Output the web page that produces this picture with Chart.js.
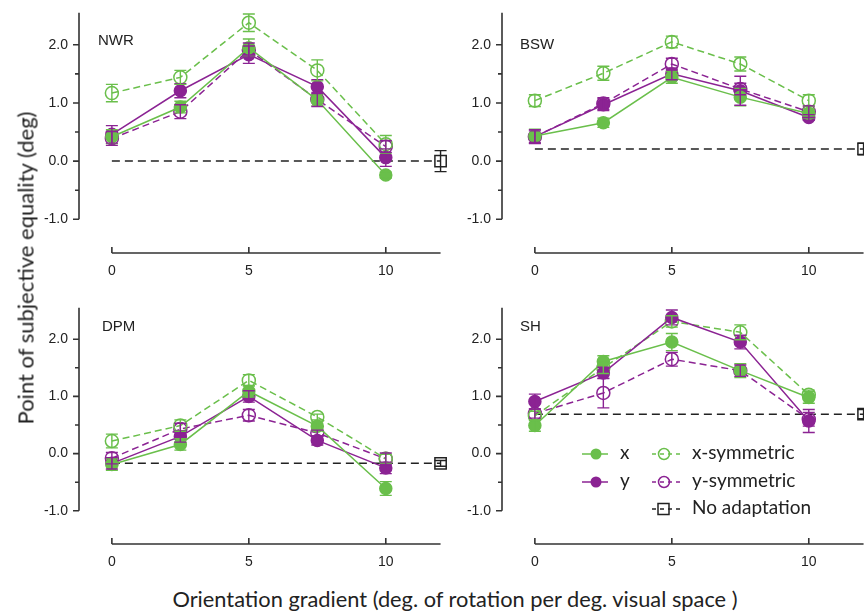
<!DOCTYPE html>
<html>
<head>
<meta charset="utf-8">
<script src="https://cdn.jsdelivr.net/npm/chart.js@4.4.0/dist/chart.umd.min.js"></script>
<style>
  body { margin: 0; width: 864px; height: 612px; overflow: hidden; background: #fff; position: relative; font-family: Lato, sans-serif; }
  canvas { position: absolute; }
  #ytitle { position: absolute; left: 25px; top: 268px; transform: translate(-50%, -50%) rotate(-90deg); white-space: nowrap; font-size: 22px; color: #222; }
  #xtitle { position: absolute; left: 455px; top: 598px; transform: translate(-50%, -50%); white-space: nowrap; font-size: 21.8px; color: #222; }
</style>
</head>
<body>
<canvas id="nwr" width="423" height="276" style="left:34px;top:7px"></canvas>
<canvas id="bsw" width="423" height="276" style="left:457px;top:7px"></canvas>
<canvas id="dpm" width="423" height="272" style="left:34px;top:302px"></canvas>
<canvas id="sh" width="423" height="272" style="left:457px;top:302px"></canvas>
<div id="ytitle">Point of subjective equality (deg)</div>
<div id="xtitle">Orientation gradient (deg. of rotation per deg. visual space )</div>
<script>
// orientation gradients tested
var gradient = [0, 2.5, 5, 7.5, 10];
var noAdaptX = [0, 12];
var xTicks = [0, 5, 10];
var yTicks = [-1, 0, 1, 2];

// NWR
var nwrX = [0.42, 0.93, 1.95, 1.05, -0.24];
var nwrXErr = [0.12, 0.1, 0.15, 0.1, 0.05];
var nwrY = [0.46, 1.21, 1.83, 1.28, 0.06];
var nwrYErr = [0.15, 0.12, 0.15, 0.12, 0.15];
var nwrXs = [1.17, 1.44, 2.38, 1.56, 0.29];
var nwrXsErr = [0.15, 0.12, 0.15, 0.18, 0.15];
var nwrYs = [0.39, 0.85, 1.91, 1.06, 0.25];
var nwrYsErr = [0.12, 0.12, 0.12, 0.12, 0.1];
var nwrNone = 0.0, nwrNoneErr = 0.18;

// BSW
var bswX = [0.43, 0.66, 1.44, 1.10, 0.82];
var bswXErr = [0.12, 0.08, 0.1, 0.15, 0.08];
var bswY = [0.42, 0.97, 1.50, 1.21, 0.75];
var bswYErr = [0.12, 0.1, 0.1, 0.25, 0.05];
var bswXs = [1.04, 1.51, 2.05, 1.67, 1.04];
var bswXsErr = [0.1, 0.12, 0.1, 0.12, 0.1];
var bswYs = [0.42, 0.99, 1.67, 1.24, 0.85];
var bswYsErr = [0.1, 0.1, 0.1, 0.1, 0.1];
var bswNone = 0.21, bswNoneErr = 0.1;

// DPM
var dpmX = [-0.19, 0.16, 1.09, 0.48, -0.61];
var dpmXErr = [0.1, 0.1, 0.1, 0.08, 0.12];
var dpmY = [-0.17, 0.30, 1.0, 0.23, -0.25];
var dpmYErr = [0.1, 0.1, 0.1, 0.08, 0.1];
var dpmXs = [0.22, 0.49, 1.28, 0.64, -0.09];
var dpmXsErr = [0.12, 0.1, 0.1, 0.05, 0.08];
var dpmYs = [-0.08, 0.43, 0.67, 0.36, -0.09];
var dpmYsErr = [0.1, 0.1, 0.1, 0.05, 0.1];
var dpmNone = -0.17, dpmNoneErr = 0.05;

// SH
var shX = [0.49, 1.61, 1.95, 1.45, 0.98];
var shXErr = [0.1, 0.1, 0.15, 0.12, 0.1];
var shY = [0.91, 1.41, 2.38, 1.95, 0.57];
var shYErr = [0.13, 0.1, 0.13, 0.12, 0.2];
var shXs = [0.66, 1.50, 2.31, 2.12, 1.03];
var shXsErr = [0.08, 0.1, 0.1, 0.13, 0.08];
var shYs = [0.70, 1.06, 1.65, 1.45, 0.60];
var shYsErr = [0.08, 0.26, 0.12, 0.1, 0.12];
var shNone = 0.69, shNoneErr = 0.08;

var GREEN = '#6abf4b';
var PURPLE = '#8b2393';
var BLACK = '#222';
var TICK_FONT = 'Liberation Sans, Arial, sans-serif';

function series(label, vals, errs, color, open) {
    return {
        label: label,
        data: gradient.map(function (g, i) { return { x: g, y: vals[i] }; }),
        errors: errs,
        borderColor: color,
        borderWidth: 1.5,
        borderDash: open ? [7, 4] : [],
        pointRadius: open ? 6.5 : 6,
        pointBackgroundColor: open ? 'rgba(0,0,0,0)' : color,
        pointBorderColor: color,
        pointBorderWidth: 1.5,
        pointHoverRadius: 6,
        clip: false
    };
}

// error bars with caps
var errorBars = {
    id: 'errorBars',
    afterDatasetsDraw: function (chart) {
        var ctx = chart.ctx, ys = chart.scales.y;
        chart.data.datasets.forEach(function (ds, i) {
            if (!ds.errors) return;
            var meta = chart.getDatasetMeta(i);
            ctx.save();
            ctx.strokeStyle = ds.borderColor;
            ctx.lineWidth = 1.4;
            ctx.setLineDash([]);
            meta.data.forEach(function (pt, j) {
                var e = ds.errors[j];
                if (!e) return;
                var v = ds.data[j].y;
                var y1 = ys.getPixelForValue(v - e), y2 = ys.getPixelForValue(v + e);
                ctx.beginPath();
                ctx.moveTo(pt.x, y1); ctx.lineTo(pt.x, y2);
                ctx.moveTo(pt.x - 6, y1); ctx.lineTo(pt.x + 6, y1);
                ctx.moveTo(pt.x - 6, y2); ctx.lineTo(pt.x + 6, y2);
                ctx.stroke();
            });
            ctx.restore();
        });
    }
};

// detached axes, panel name and (optionally) legend
var panelDeco = {
    id: 'panel',
    beforeDatasetsDraw: function (chart, args, opts) {
        var ctx = chart.ctx, xs = chart.scales.x, ys = chart.scales.y;
        var left = chart.chartArea.left, bottom = chart.chartArea.bottom;
        ctx.save();
        ctx.strokeStyle = '#333';
        ctx.lineWidth = 1.6;
        ctx.beginPath();
        ctx.moveTo(left, ys.getPixelForValue(-1));
        ctx.lineTo(left, ys.getPixelForValue(2.55));
        for (var v = -1; v <= 2.01; v += 0.5) {
            var p = ys.getPixelForValue(v);
            var major = Math.abs(v - Math.round(v)) < 0.01;
            ctx.moveTo(left, p);
            ctx.lineTo(left - (major ? 6 : 4), p);
        }
        ctx.moveTo(xs.getPixelForValue(0), bottom);
        ctx.lineTo(xs.getPixelForValue(12), bottom);
        xTicks.forEach(function (t) {
            var px = xs.getPixelForValue(t);
            ctx.moveTo(px, bottom);
            ctx.lineTo(px, bottom - 6);
        });
        ctx.stroke();

        ctx.fillStyle = BLACK;
        ctx.font = '15px ' + TICK_FONT;
        ctx.textBaseline = 'middle';
        ctx.textAlign = 'left';
        ctx.fillText(opts.name, left + opts.dx, ys.getPixelForValue(opts.yv));
        ctx.restore();
    },
    afterDraw: function (chart, args, opts) {
        if (!opts.legend) return;
        var ctx = chart.ctx;
        var rows = [
            { y: 152, c1: GREEN, t1: 'x', c2: GREEN, t2: 'x-symmetric' },
            { y: 180, c1: PURPLE, t1: 'y', c2: PURPLE, t2: 'y-symmetric' },
            { y: 207, c2: BLACK, t2: 'No adaptation', square: true }
        ];
        ctx.save();
        ctx.lineWidth = 1.5;
        ctx.font = '19px Lato, sans-serif';
        ctx.textBaseline = 'middle';
        rows.forEach(function (r) {
            if (r.c1) {
                ctx.strokeStyle = r.c1; ctx.fillStyle = r.c1;
                ctx.setLineDash([]);
                ctx.beginPath(); ctx.moveTo(125, r.y); ctx.lineTo(151, r.y); ctx.stroke();
                ctx.beginPath(); ctx.arc(139, r.y, 5.5, 0, Math.PI * 2); ctx.fill();
                ctx.fillStyle = BLACK;
                ctx.fillText(r.t1, 163, r.y - 1);
            }
            ctx.strokeStyle = r.c2;
            ctx.setLineDash([4, 4]);
            ctx.beginPath(); ctx.moveTo(195, r.y); ctx.lineTo(223, r.y); ctx.stroke();
            ctx.setLineDash([]);
            ctx.beginPath();
            if (r.square) ctx.rect(201, r.y - 5.5, 11, 11);
            else ctx.arc(207, r.y, 5.5, 0, Math.PI * 2);
            ctx.stroke();
            ctx.fillStyle = BLACK;
            ctx.fillText(r.t2, 235, r.y - 1);
        });
        ctx.restore();
    }
};

function noPadding(s) {
    s.paddingTop = 0; s.paddingBottom = 0;
    s.paddingLeft = 0; s.paddingRight = 0;
}

function makePanel(id, name, dx, yv, x, xe, y, ye, xsym, xsymE, ysym, ysymE, none, noneE, legend) {
    var datasets = [
        series('x', x, xe, GREEN, false),
        series('y', y, ye, PURPLE, false),
        series('x-symmetric', xsym, xsymE, GREEN, true),
        series('y-symmetric', ysym, ysymE, PURPLE, true),
        {
            label: 'No adaptation',
            data: noAdaptX.map(function (g) { return { x: g, y: none }; }),
            errors: [0, noneE],
            borderColor: BLACK,
            borderWidth: 1.5,
            borderDash: [8, 5],
            pointStyle: 'rect',
            pointRadius: [0, 8],
            pointBackgroundColor: 'rgba(0,0,0,0)',
            pointBorderColor: BLACK,
            pointBorderWidth: 1.5,
            clip: false
        }
    ];
    return new Chart(document.getElementById(id), {
        type: 'line',
        data: { datasets: datasets },
        options: {
            responsive: false,
            animation: false,
            events: [],
            layout: { padding: 0, autoPadding: false },
            plugins: {
                legend: { display: false },
                tooltip: { enabled: false },
                panel: { name: name, dx: dx, yv: yv, legend: legend }
            },
            scales: {
                x: {
                    type: 'linear', min: -1.2, max: 12.6,
                    grid: { display: false, drawTicks: false },
                    border: { display: false },
                    afterBuildTicks: function (s) { s.ticks = xTicks.map(function (v) { return { value: v }; }); },
                    afterFit: function (s) { s.height = 30; noPadding(s); },
                    ticks: { font: { family: TICK_FONT, size: 14 }, color: BLACK, padding: 10, maxRotation: 0, autoSkip: false }
                },
                y: {
                    min: -1.58, max: 2.65,
                    grid: { display: false, drawTicks: false },
                    border: { display: false },
                    afterBuildTicks: function (s) { s.ticks = yTicks.map(function (v) { return { value: v }; }); },
                    afterFit: function (s) { s.width = 45; noPadding(s); },
                    ticks: { font: { family: TICK_FONT, size: 14 }, color: BLACK, padding: 11,
                             callback: function (v) { return v.toFixed(1); } }
                }
            }
        },
        plugins: [errorBars, panelDeco]
    });
}

makePanel('nwr', 'NWR', 19, 2.06, nwrX, nwrXErr, nwrY, nwrYErr, nwrXs, nwrXsErr, nwrYs, nwrYsErr, nwrNone, nwrNoneErr, false);
makePanel('bsw', 'BSW', 18, 2.0, bswX, bswXErr, bswY, bswYErr, bswXs, bswXsErr, bswYs, bswYsErr, bswNone, bswNoneErr, false);
makePanel('dpm', 'DPM', 23, 2.22, dpmX, dpmXErr, dpmY, dpmYErr, dpmXs, dpmXsErr, dpmYs, dpmYsErr, dpmNone, dpmNoneErr, false);
makePanel('sh', 'SH', 18, 2.22, shX, shXErr, shY, shYErr, shXs, shXsErr, shYs, shYsErr, shNone, shNoneErr, true);
</script>
</body>
</html>
